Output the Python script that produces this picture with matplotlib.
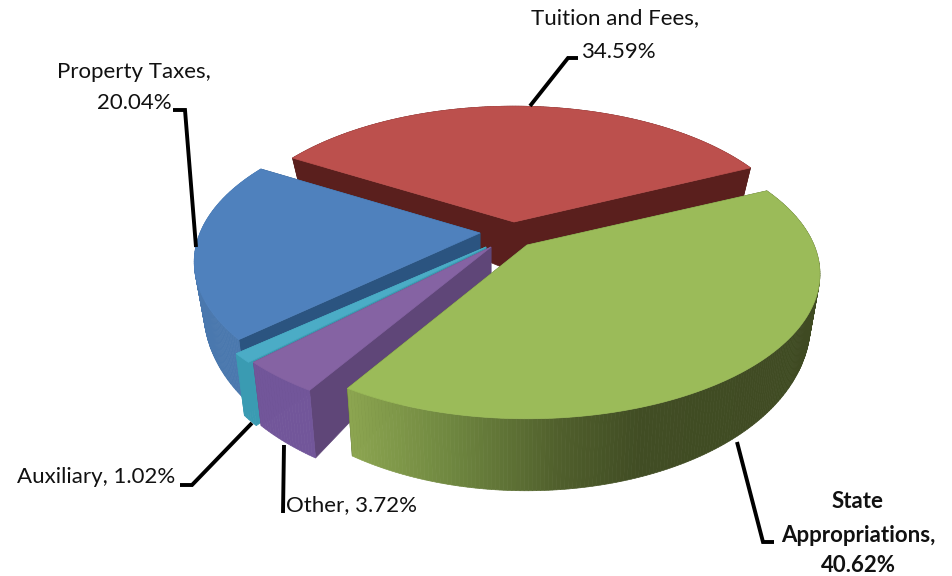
import numpy as np
import matplotlib
matplotlib.use("Agg")
import matplotlib.pyplot as plt
from matplotlib.colors import to_rgb
from matplotlib.patches import Polygon

# ---- data (clockwise, starting from the right-hand cut of the green slice)
names = ["State Appropriations", "Other", "Auxiliary", "Property Taxes", "Tuition and Fees"]
shares = [40.62, 3.72, 1.02, 20.04, 34.59]

top_cols = ["#9BBB59", "#8563A3", "#4BACC6", "#4F81BD", "#BC504D"]
cut_cols = ["#3F4A22", "#5F4678", "#3A9BB2", "#2B5480", "#5A1F1D"]
rim_cols = ["#3F4A22", "#72569A", "#3A9BB2", "#4A78AE", "#5A1F1D"]
# where each exploded slice has its tip, in picture pixels, its width and wall height at the tip
tips = [(527, 245), (491, 247), (486, 247), (480, 233), (514, 222)]
radii = [287.0, 290.0, 290.0, 280.0, 283.0]
tip_heights = [27.0, 27.0, 27.0, 27.0, 50.0]
draw_order = [4, 3, 2, 1, 0]

START = -25.0
RY, K = 139.0, 0.2

fig = plt.figure(figsize=(9.53, 5.76), dpi=100, facecolor="white")
ax = fig.add_axes([0, 0, 1, 1])
ax.set_xlim(0, 953)
ax.set_ylim(576, 0)
ax.axis("off")


def rim_top(tip, rx, a):
    u, v = np.cos(np.radians(a)), np.sin(np.radians(a))
    w = 1.0 / (1.0 - K * v)
    return tip[0] + rx * u * w, tip[1] + RY * v * w


def rim_bottom(tip, rx, a):
    x, y = rim_top(tip, rx, a)
    v = np.sin(np.radians(a))
    return x + (510 - x) * 0.03, y + 42 + 30 * v


def green_wall_colour(x):
    xs = [350, 450, 560, 640, 830]
    stops = np.array([to_rgb(c) for c in ["#8CA550", "#6F8740", "#505F2C", "#414D24", "#3F4A22"]])
    return tuple(np.interp(x, xs, stops[:, i]) for i in range(3))


fractions = np.array(shares) / np.sum(shares) * 360.0
starts = START + np.concatenate([[0], np.cumsum(fractions)[:-1]])

for z, i in enumerate(draw_order):
    a0, a1 = starts[i], starts[i] + fractions[i]
    tip, rx = tips[i], radii[i]
    tip_bottom = (tip[0], tip[1] + tip_heights[i])
    # radial cut walls
    for a in (a0, a1):
        ax.add_patch(Polygon([tip, rim_top(tip, rx, a), rim_bottom(tip, rx, a), tip_bottom],
                             closed=True, fc=cut_cols[i], ec=cut_cols[i], lw=0.5, zorder=z + 1))
    # outer wall, in small strips so the shading can vary
    angles = np.linspace(a0, a1, max(int(fractions[i] * 1.5), 6))
    for p, q in zip(angles[:-1], angles[1:]):
        poly = [rim_top(tip, rx, p), rim_top(tip, rx, q), rim_bottom(tip, rx, q), rim_bottom(tip, rx, p)]
        col = rim_cols[i]
        if i == 0:
            col = green_wall_colour(rim_top(tip, rx, (p + q) / 2)[0])
        ax.add_patch(Polygon(poly, closed=True, fc=col, ec=col, lw=0.5, zorder=z + 1.2))
    # top face
    arc = [rim_top(tip, rx, a) for a in np.linspace(a0, a1, 120)]
    ax.add_patch(Polygon([tip] + arc, closed=True, fc=top_cols[i], ec=top_cols[i],
                         lw=0.5, zorder=z + 1.5))

# ---- labels
FONT = dict(family="Lato", fontsize=16, color="#111111", va="center")


def label(x, y, s, ha="center", **kw):
    ax.text(x, y, s, ha=ha, zorder=20, **{**FONT, **kw})


label(615, 18, f"{names[4]},")
label(618, 52, f"{shares[4]:.2f}%")
label(134, 72, f"{names[3]},")
label(134, 103, f"{shares[3]:.2f}%")
label(96, 477, f"{names[2]}, {shares[2]:.2f}%")
label(352, 505, f"{names[1]}, {shares[1]:.2f}%")
first, second = names[0].split(" ")
label(858, 502, first, fontweight="bold")
label(858, 535, f"{second},", fontweight="bold")
label(858, 566, f"{shares[0]:.2f}%", fontweight="bold")

leaders = [
    ([530, 568, 578], [106, 58, 58]),
    ([196, 185, 173], [247, 110, 110]),
    ([252, 192, 180], [423, 485, 485]),
    ([284, 283], [445, 513]),
    ([737, 763, 774], [442, 542, 542]),
]
for xs, ys in leaders:
    ax.plot(xs, ys, color="black", lw=2.8, solid_joinstyle="miter", solid_capstyle="butt", zorder=19)

fig.savefig("out.png", dpi=100)
